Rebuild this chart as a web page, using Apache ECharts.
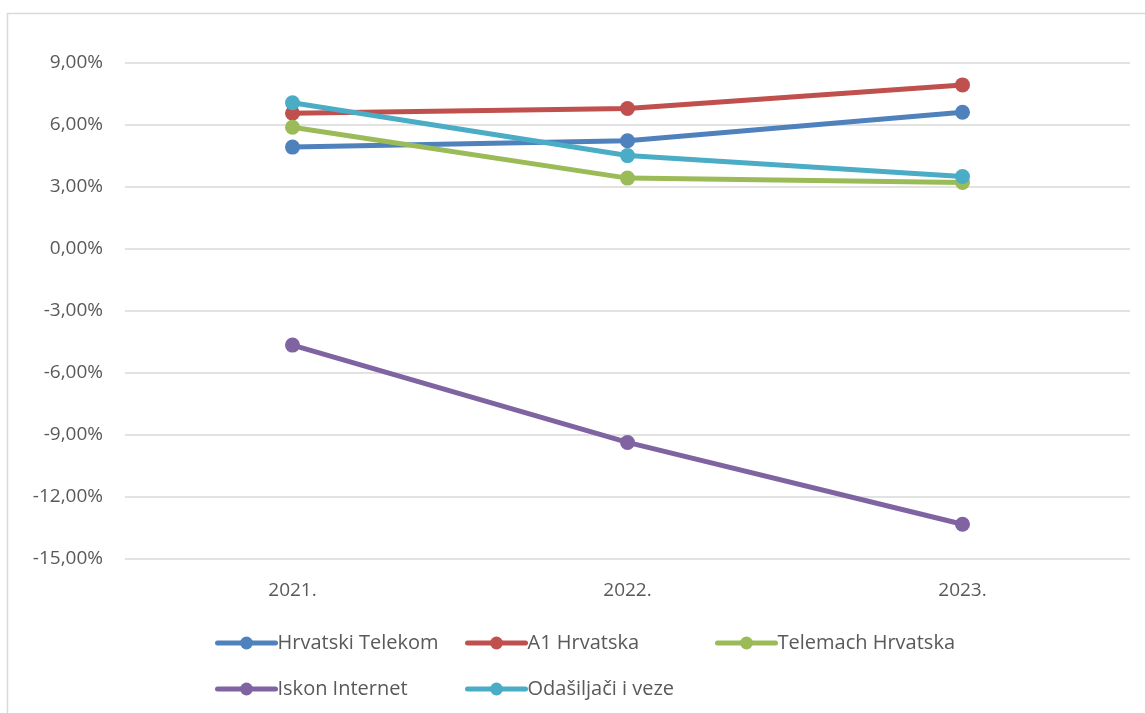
<!DOCTYPE html>
<html><head><meta charset="utf-8">
<script src="https://cdn.jsdelivr.net/npm/echarts@6/dist/echarts.min.js"></script>
<style>html,body{margin:0;padding:0;background:#fff}#c{width:1145px;height:713px}</style>
</head><body><div id="c"></div>
<script>
const categories = ['2021.', '2022.', '2023.'];
const seriesNames = ['Hrvatski Telekom', 'A1 Hrvatska', 'Telemach Hrvatska', 'Iskon Internet', 'Odašiljači i veze'];
const hrvatskiTelekom = [4.93, 5.24, 6.62];
const a1Hrvatska = [6.57, 6.80, 7.94];
const telemachHrvatska = [5.89, 3.43, 3.22];
const iskonInternet = [-4.65, -9.36, -13.32];
const odasiljaci = [7.08, 4.52, 3.51];
const yTicks = { min: -15, max: 9, interval: 3 };
const colors = ['#4f81bd', '#c0504d', '#9bbb59', '#8064a2', '#4bacc6'];

const values = [hrvatskiTelekom, a1Hrvatska, telemachHrvatska, iskonInternet, odasiljaci];
const font = 'Open Sans';
const legendPos = [[215, 633], [465, 633], [715, 633], [215, 679], [465, 679]];

const chart = echarts.init(document.getElementById('c'));
chart.setOption({
  animation: false,
  textStyle: { fontFamily: font },
  graphic: [{ type: 'rect', shape: { x: 7.5, y: 13.5, width: 1160, height: 720 }, style: { fill: 'none', stroke: '#d9d9d9', lineWidth: 1.5 } }],
  legend: seriesNames.map((n, i) => ({
    data: [n], left: legendPos[i][0], top: legendPos[i][1], padding: 0,
    itemWidth: 58, itemHeight: 16, itemGap: 0,
    lineStyle: { width: 5 },
    textStyle: { fontSize: 20, color: '#595959', fontFamily: font, padding: [0, 0, 0, -3] }
  })),
  grid: { left: 125, right: 15, top: 63, bottom: 154 },
  xAxis: {
    type: 'category', data: categories, boundaryGap: true,
    axisLine: { show: false }, axisTick: { show: false },
    axisLabel: { fontSize: 19, color: '#595959', margin: 22, fontFamily: font }
  },
  yAxis: {
    type: 'value', min: yTicks.min, max: yTicks.max, interval: yTicks.interval,
    axisLine: { show: false }, axisTick: { show: false },
    splitLine: { lineStyle: { color: '#d9d9d9', width: 1.5 } },
    axisLabel: { fontSize: 19, color: '#595959', margin: 22, fontFamily: font,
      formatter: v => v.toFixed(2).replace('.', ',') + '%' }
  },
  series: seriesNames.map((n, i) => ({
    name: n, type: 'line', data: values[i],
    symbol: 'circle', symbolSize: 15,
    lineStyle: { width: 5, color: colors[i], cap: 'round' },
    itemStyle: { color: colors[i] }
  }))
});
</script></body></html>
